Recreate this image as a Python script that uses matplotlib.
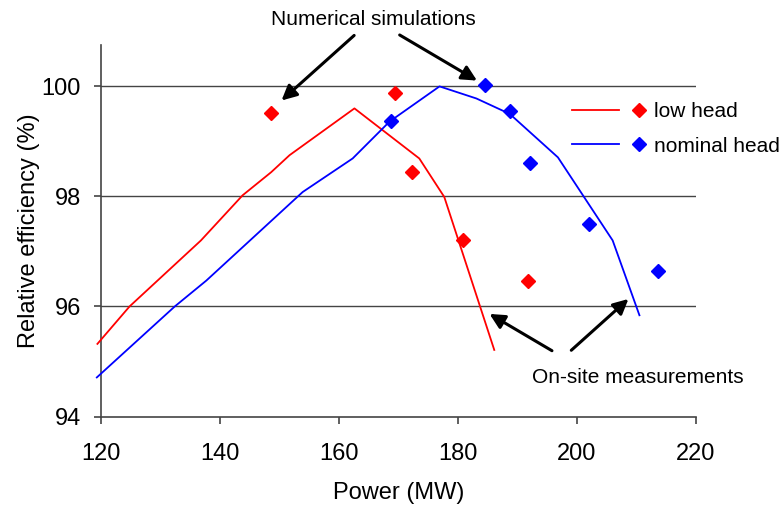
import matplotlib.pyplot as plt
from matplotlib.lines import Line2D
from matplotlib.legend_handler import HandlerBase

plt.rcParams['font.family'] = ['Liberation Sans', 'DejaVu Sans']

# numerical simulation curves
low_sim_x = [119.4, 124.8, 136.8, 143.8, 148.6, 151.7, 162.6, 173.5, 177.7, 186.1]
low_sim_y = [95.32, 96.0, 97.2, 98.02, 98.44, 98.75, 99.6, 98.69, 97.99, 95.21]
nom_sim_x = [119.3, 132.4, 137.7, 153.9, 162.3, 168.5, 176.9, 183.1, 188.7, 196.8, 206.0, 210.5]
nom_sim_y = [94.71, 96.0, 96.47, 98.08, 98.69, 99.36, 100.0, 99.78, 99.5, 98.71, 97.2, 95.84]

# on-site measurements
low_meas_x = [148.6, 169.4, 172.3, 180.8, 191.8]
low_meas_y = [99.51, 99.88, 98.45, 97.2, 96.47]
nom_meas_x = [168.7, 184.5, 188.7, 192.1, 202.0, 213.7]
nom_meas_y = [99.37, 100.02, 99.56, 98.6, 97.5, 96.64]

x_ticks = [120, 140, 160, 180, 200, 220]
y_ticks = [94, 96, 98, 100]
series_names = ['low head', 'nominal head']


class LineDiamond(HandlerBase):
    """legend entry: short line, then a diamond"""

    def create_artists(self, legend, orig_handle, xdescent, ydescent,
                       width, height, fontsize, trans):
        color = orig_handle.get_color()
        y = height / 2 - ydescent
        x0 = -xdescent
        line = Line2D([x0, x0 + width * 0.64], [y, y], color=color, lw=1.3, transform=trans)
        mk = Line2D([x0 + width * 0.92], [y], marker='D', ms=7.5, color=color,
                    ls='', transform=trans)
        return [line, mk]


fig = plt.figure(figsize=(7.84, 5.07), dpi=100)
ax = fig.add_axes([0.1288, 0.1785, 0.7589, 0.7325])

for y in y_ticks[1:]:
    ax.axhline(y, color='#444444', lw=1.0, zorder=1)

red_line, = ax.plot(low_sim_x, low_sim_y, color='red', lw=1.3, clip_on=False, zorder=3)
blue_line, = ax.plot(nom_sim_x, nom_sim_y, color='blue', lw=1.3, clip_on=False, zorder=3)
ax.plot(low_meas_x, low_meas_y, 'D', color='red', ms=7, zorder=4)
ax.plot(nom_meas_x, nom_meas_y, 'D', color='blue', ms=7, zorder=4)

ax.set_xlim(120, 220)
ax.set_ylim(94, 100.75)
ax.set_xticks(x_ticks)
ax.set_yticks(y_ticks)
ax.tick_params(labelsize=17, length=5, width=1.2, color='#444444')
ax.tick_params(axis='x', pad=14)
ax.tick_params(axis='y', pad=9.5)
for side in ['top', 'right']:
    ax.spines[side].set_visible(False)
for side in ['left', 'bottom']:
    ax.spines[side].set_color('#444444')
    ax.spines[side].set_linewidth(1.2)

ax.set_xlabel('Power (MW)', fontsize=17, labelpad=12.5)
ax.set_ylabel('Relative efficiency (%)', fontsize=17, labelpad=1)

# arrows and annotation text
arrow = dict(arrowstyle='-|>,head_length=0.9,head_width=0.45', color='black', lw=2.2)
ax.annotate('', xy=(150.0, 99.71), xytext=(162.9, 100.96), arrowprops=arrow, annotation_clip=False)
ax.annotate('', xy=(183.6, 100.08), xytext=(169.8, 100.96), arrowprops=arrow, annotation_clip=False)
ax.annotate('', xy=(184.9, 95.89), xytext=(196.2, 95.17), arrowprops=arrow, annotation_clip=False)
ax.annotate('', xy=(209.0, 96.17), xytext=(198.7, 95.17), arrowprops=arrow, annotation_clip=False)
ax.text(165.8, 101.21, 'Numerical simulations', fontsize=15, ha='center', va='center', clip_on=False)
ax.text(210.2, 94.70, 'On-site measurements', fontsize=15, ha='center', va='center', clip_on=False)

fig.legend([red_line, blue_line], series_names, loc='upper left',
           bbox_to_anchor=(0.7296, 0.799), frameon=False, fontsize=15,
           handler_map={Line2D: LineDiamond()},
           handlelength=3.5, handletextpad=0.45, labelspacing=0.75,
           borderpad=0, borderaxespad=0)

fig.savefig('out.png', dpi=100)
